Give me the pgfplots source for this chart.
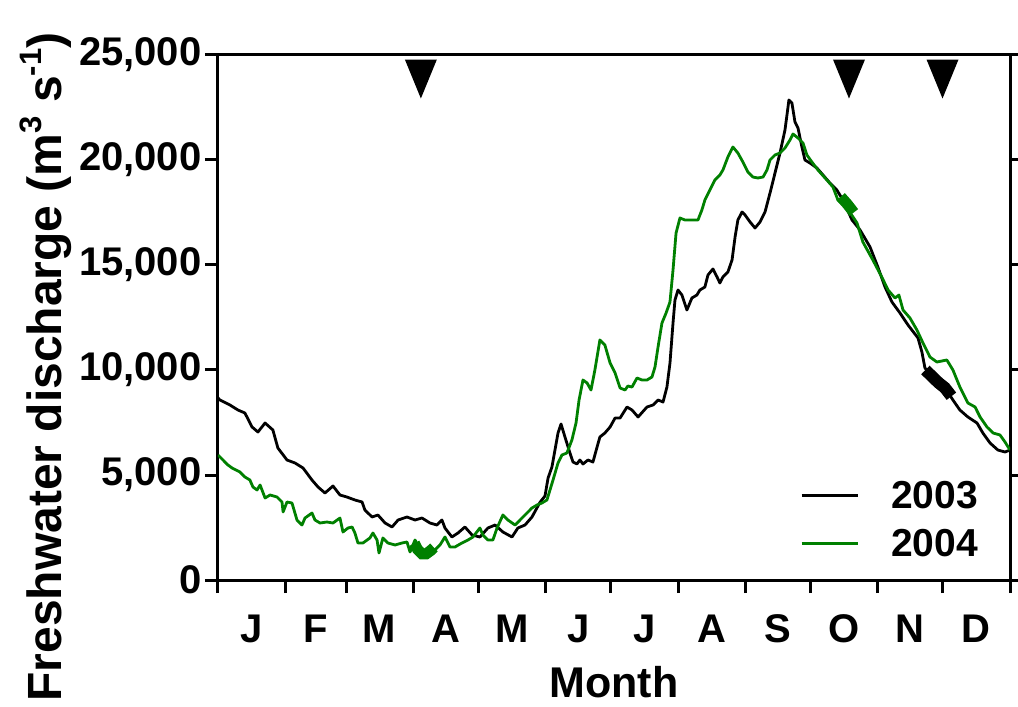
\documentclass[border=0pt]{standalone}
\usepackage{fontspec}
\setmainfont{Liberation Sans}
\usepackage{pgfplots}
\usepackage{pgfplotstable}
\pgfplotsset{compat=1.18}

\definecolor{grn}{RGB}{0,128,0}

% raised superscript for the unit
\newcommand{\unitsup}[1]{\raisebox{0.42em}{\fontsize{31}{31}\selectfont #1}}

% downward pointing sampling marker
\pgfdeclareplotmark{dtri}{%
  \pgfpathmoveto{\pgfqpoint{-16pt}{19.5pt}}%
  \pgfpathlineto{\pgfqpoint{16pt}{19.5pt}}%
  \pgfpathlineto{\pgfqpoint{0pt}{-19.5pt}}%
  \pgfpathclose\pgfusepathqfill}

% daily freshwater discharge, day of year vs m^3/s
\pgfplotstableread{
d v
0 8670
0.9 8571
5.5 8333
9.2 8095
12.4 7952
15.7 7286
18.4 7048
21.7 7476
25.3 7143
27.6 6286
31.8 5714
35.5 5571
39.2 5333
43.3 4762
46.1 4429
49.3 4143
53.0 4476
56.2 4048
59.4 3952
63.1 3810
66.4 3714
67.7 3333
71.0 3000
73.7 3095
77.0 2714
80.2 2524
83.0 2857
87.1 3000
90.8 2857
94.0 2952
97.7 2714
100.9 2619
103.2 2857
104.6 2476
107.8 2048
110.6 2238
113.8 2524
117.1 2143
120.7 2048
124.4 2476
127.7 2619
131.3 2286
135.5 2048
138.2 2476
141.5 2619
144.7 3000
148.4 3700
150.7 4000
152.1 4850
153.9 5381
155.3 6190
156.7 7000
158.1 7429
159.9 6810
162.2 6048
163.6 5619
165.4 5524
166.8 5714
168.2 5524
170.5 5714
172.8 5619
174.7 6333
176.0 6810
178.3 7000
180.7 7286
183.0 7714
185.3 7714
188.5 8238
190.8 8095
193.6 7762
197.7 8238
200.5 8333
202.8 8571
205.1 8476
206.9 9190
208.3 10333
209.7 12238
210.6 13333
212.0 13810
213.8 13571
216.1 12857
218.4 13429
220.7 13571
222.1 13810
224.4 13952
225.8 14524
228.1 14810
230.0 14429
231.3 14143
232.7 14429
235.0 14667
236.9 15238
238.3 16333
239.6 17143
241.5 17524
242.9 17381
245.2 17048
247.5 16762
249.8 17048
252.1 17524
254.4 18429
256.7 19381
259.0 20333
261.3 21429
262.7 22524
263.1 22857
264.5 22714
265.9 21810
267.3 21524
269.1 20619
270.5 20000
272.8 19857
276.0 19619
278.8 19286
282.0 18905
285.2 18571
288.0 18095
292.2 17143
295.9 16667
300.5 15857
304.1 14905
307.4 13952
310.6 13238
314.3 12714
318.0 12143
322.6 11524
324.4 10857
325.8 10095
330.0 9600
333.0 9300
336.0 9000
338.7 8571
341.9 8095
345.6 7762
349.8 7476
352.5 7000
355.8 6524
359.4 6190
362.7 6095
365 6190
}\qthree

\pgfplotstableread{
d v
0 5952
2.3 5714
4.6 5476
6.5 5333
10.1 5143
12.4 4905
14.7 4762
16.1 4429
18.0 4286
19.4 4524
21.7 3905
24.0 4048
27.2 3952
29.5 3714
30.0 3238
31.8 3714
34.1 3667
36.4 2857
38.7 2619
40.1 2952
43.3 3190
44.7 2857
47.0 2714
50.2 2762
53.0 2714
56.2 2952
57.6 2286
59.9 2476
61.8 2524
63.1 2238
64.5 1762
66.8 1762
70.0 2000
71.4 2238
73.3 1905
74.2 1286
76.0 2000
78.3 1762
81.6 1667
84.8 1762
87.1 1810
88.5 1333
90.8 1905
93.0 1500
95.0 1300
97.0 1250
99.0 1400
100.0 1429
102.3 1667
104.6 2048
106.9 1571
109.2 1571
112.4 1762
115.2 1905
117.5 2048
120.7 2476
122.1 2143
124.4 1905
126.7 1905
128.6 2476
131.3 3095
133.6 2857
136.9 2619
140.1 2952
142.4 3190
144.7 3429
147.0 3571
149.3 3667
151.6 3810
153.0 4286
154.4 4762
156.7 5571
158.5 5952
160.8 6048
163.1 6667
165.0 7476
166.4 8571
168.2 9524
170.1 9381
171.9 9048
173.7 10000
176.0 11429
178.3 11190
180.7 10333
183.0 9857
185.3 9143
187.6 9048
188.9 9238
190.8 9190
193.1 9619
195.4 9524
197.7 9524
200.0 9667
201.4 10143
202.8 11095
204.6 12238
206.5 12714
208.3 13238
209.7 14762
211.1 16524
212.9 17238
215.2 17143
218.4 17143
221.2 17143
222.1 17381
223.0 17619
224.4 18095
226.7 18571
229.0 19048
231.3 19286
232.7 19524
235.0 20143
237.3 20619
239.6 20333
241.9 19905
244.2 19429
246.5 19190
248.8 19143
251.2 19190
253.0 19524
254.4 20000
256.7 20238
259.0 20333
261.3 20571
263.6 20952
265.0 21238
267.3 21048
269.6 20810
271.4 20238
273.7 19905
276.5 19524
280.6 19048
283.4 18714
285.7 18095
290.0 17700
294.5 17000
297.2 16095
301.8 15238
305.9 14429
308.8 13810
312.0 13429
313.8 13571
315.7 12857
318.9 12476
322.1 11905
324.9 11286
328.1 10619
331.3 10381
335.9 10476
338.7 10000
341.9 9190
345.6 8429
348.9 8238
351.2 7762
354.4 7286
357.2 7000
360.4 6905
362.7 6571
365 6190
}\qfour

\begin{document}
\begin{tikzpicture}
\begin{axis}[
  scale only axis,
  width=792pt, height=525pt,
  xmin=0, xmax=365, ymin=0, ymax=25000,
  xtick={0,31,59,90,120,151,181,212,243,273,304,334,365},
  xticklabels={J,F,M,A,M,J,J,A,S,O,N,D},
  x tick label as interval,
  ytick={0,5000,10000,15000,20000,25000},
  scaled y ticks=false,
  /pgf/number format/1000 sep={,},
  /pgf/number format/assume math mode=true,
  tick align=outside,
  xtick pos=bottom,
  ytick pos=both,
  yticklabel pos=left,
  major tick length=13pt,
  axis line style={line width=3pt},
  every tick/.style={black, line width=3pt},
  tick label style={font=\bfseries\fontsize{40}{42}\selectfont},
  xticklabel style={yshift=-18pt},
  xlabel={Month},
  xlabel style={font=\bfseries\fontsize{43}{45}\selectfont,
    at={(axis description cs:0.5,-0.2229)}, anchor=base},
  ylabel={Freshwater discharge (m\unitsup{3} s\unitsup{-1})},
  ylabel style={font=\bfseries\fontsize{48}{50}\selectfont,
    at={(axis description cs:-0.197,0.4057)}, anchor=base, rotate=0},
  legend style={draw=none, fill=none,
    font=\bfseries\fontsize{39}{41}\selectfont,
    at={(rel axis cs:0.966,0.034)}, anchor=south east,
    row sep=15pt, nodes={inner sep=2pt},
    /tikz/every odd column/.append style={column sep=30pt}},
  legend cell align=left,
  legend image code/.code={\draw[#1] (0pt,0pt) -- (56pt,0pt);},
]
\addplot[black, line width=2.8pt, line join=round] table[x=d, y=v] {\qthree};
\addplot[grn, line width=2.8pt, line join=round] table[x=d, y=v] {\qfour};
\legend{2003, 2004}

% sampling periods
\addplot[grn, line width=11pt, forget plot] coordinates {(90.5,1750) (92,1450) (94,1250) (96,1250) (98,1400) (99.5,1550)};
\addplot[grn, line width=11pt, forget plot] coordinates {(287,18250) (290,17900) (293,17500)};
\addplot[black, line width=12pt, forget plot] coordinates {(326,10000) (329,9700) (332,9400) (335,9150) (338,8750)};

% cruise markers
\addplot[only marks, mark=dtri, black, forget plot] coordinates {(93.5,23857) (290.8,23857) (333.9,23857)};
\end{axis}
\pgfresetboundingbox
\path[use as bounding box] (current axis.south west) ++(-218pt,-127pt)
  rectangle ([shift={(8pt,55pt)}]current axis.north east);
\end{tikzpicture}
\end{document}
